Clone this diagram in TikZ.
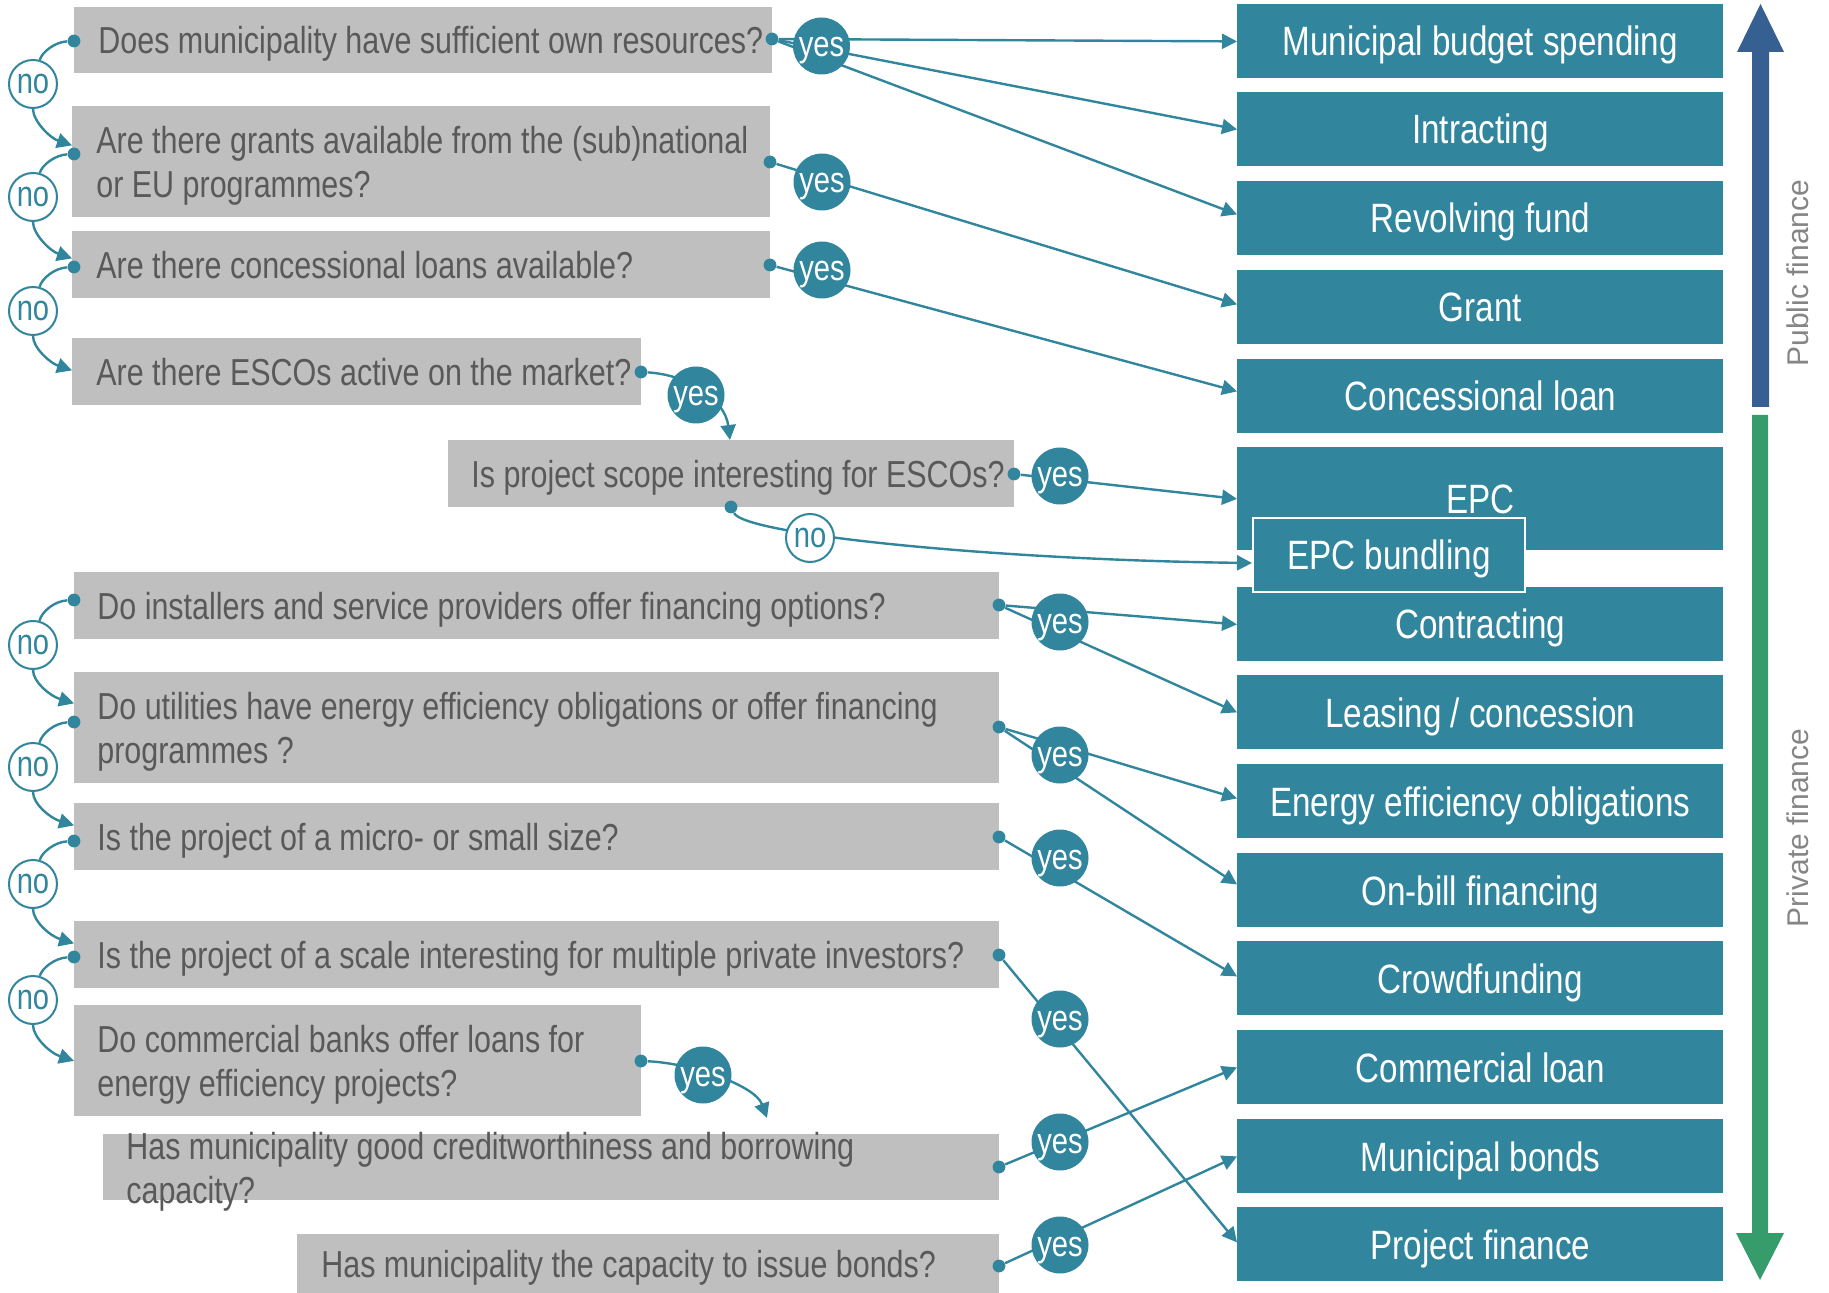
\documentclass[tikz,border=0pt]{standalone}
\usepackage{fontspec}
\setmainfont{Liberation Sans}
\newfontfamily\narrowfont{Liberation Sans}[FakeStretch=0.81]
\usetikzlibrary{arrows.meta}
\definecolor{tealc}{HTML}{31859C}
\definecolor{qgray}{HTML}{BFBFBF}
\definecolor{qtextc}{HTML}{595959}
\definecolor{pubblue}{HTML}{376092}
\definecolor{privgreen}{HTML}{369C6C}
\definecolor{labgray}{HTML}{858585}
\begin{document}
\begin{tikzpicture}[x=0.5pt,y=-0.5pt,
  qbox/.style={fill=qgray, inner sep=0, anchor=north west, draw=none},
  qtext/.style={font=\narrowfont\fontsize{18.8pt}{22pt}\selectfont, text=qtextc, inner sep=0, align=left, anchor=west},
  qone/.style={qtext, text height=13.5pt, text depth=0pt},
  qtwo/.style={qtext, yshift=-2pt},
  rbox/.style={fill=tealc, inner sep=0, anchor=north west, minimum width=243pt, minimum height=37pt,
    text=white, text height=14.6pt, text depth=0pt, font=\narrowfont\fontsize{20.5pt}{24pt}\selectfont},
  dotn/.style={circle, fill=tealc, inner sep=0, minimum size=6.4pt},
  yesn/.style={circle, fill=tealc, text=white, inner sep=0, minimum size=28.5pt,
    text height=11pt, text depth=0pt, font=\narrowfont\fontsize{18pt}{20pt}\selectfont},
  non/.style={circle, fill=white, draw=tealc, line width=1pt, text=tealc, inner sep=0, minimum size=24pt,
    font=\narrowfont\fontsize{18pt}{20pt}\selectfont},
  conn/.style={draw=tealc, line width=1.2pt},
  arr/.style={conn, -{Triangle[length=7.5pt,width=7.5pt]}},
  vlabel/.style={rotate=90, text=labgray, inner sep=0, font=\fontsize{15pt}{18pt}\selectfont}
]
\useasboundingbox (0,0) rectangle (1829,1293);

% ---------- right column: financing options ----------
\node[rbox] (R1) at (1237,4) {Municipal budget spending};
\node[rbox] (R2) at (1237,92) {Intracting};
\node[rbox] (R3) at (1237,181) {Revolving fund};
\node[rbox] (R4) at (1237,270) {Grant};
\node[rbox] (R5) at (1237,359) {Concessional loan};
\node[rbox, minimum height=51.5pt] (R6) at (1237,447) {EPC};
\node[rbox] (R7) at (1237,587) {Contracting};
\node[rbox] (R8) at (1237,675) {Leasing / concession};
\node[rbox] (R9) at (1237,764) {Energy efficiency obligations};
\node[rbox] (R10) at (1237,853) {On-bill financing};
\node[rbox] (R11) at (1237,941) {Crowdfunding};
\node[rbox] (R12) at (1237,1030) {Commercial loan};
\node[rbox] (R13) at (1237,1119) {Municipal bonds};
\node[rbox] (R14) at (1237,1207) {Project finance};
\node[rbox, minimum width=136pt, draw=white, line width=1pt] (B) at (1252,517) {EPC bundling};

% ---------- public / private arrows ----------
\fill[pubblue] (1752,407) -- (1752,52) -- (1737,52) -- (1760.5,4) -- (1784,52) -- (1769,52) -- (1769,407) -- cycle;
\fill[privgreen] (1752,415) -- (1752,1233) -- (1736,1233) -- (1760,1280) -- (1784,1233) -- (1768,1233) -- (1768,415) -- cycle;
\node[vlabel] (pub) at (1798,273) {Public finance};
\node[vlabel] (priv) at (1798,828) {Private finance};

% ---------- questions ----------
\node[qbox, minimum width=349pt, minimum height=33pt] (q1) at (74,7) {};
\node[qone] (q1t) at ([xshift=12pt]q1.west) {Does municipality have sufficient own resources?};
\node[qbox, minimum width=349pt, minimum height=55.5pt] (q2) at (72,106) {};
\node[qtwo] (q2t) at ([xshift=12pt]q2.west) {Are there grants available from the (sub)national\\or EU programmes?};
\node[qbox, minimum width=349pt, minimum height=33.5pt] (q3) at (72,231) {};
\node[qone] (q3t) at ([xshift=12pt]q3.west) {Are there concessional loans available?};
\node[qbox, minimum width=284.5pt, minimum height=33.5pt] (q4) at (72,338) {};
\node[qone] (q4t) at ([xshift=12pt]q4.west) {Are there ESCOs active on the market?};
\node[qbox, minimum width=283pt, minimum height=33.5pt] (q5) at (448,440) {};
\node[qone] (q5t) at ([xshift=11.5pt]q5.west) {Is project scope interesting for ESCOs?};
\node[qbox, minimum width=462.5pt, minimum height=33.5pt] (q6) at (74,572) {};
\node[qone] (q6t) at ([xshift=11.5pt]q6.west) {Do installers and service providers offer financing options?};
\node[qbox, minimum width=462.5pt, minimum height=55.5pt] (q7) at (74,672) {};
\node[qtwo] (q7t) at ([xshift=11.5pt]q7.west) {Do utilities have energy efficiency obligations or offer financing\\programmes ?};
\node[qbox, minimum width=462.5pt, minimum height=33.5pt] (q8) at (74,803) {};
\node[qone] (q8t) at ([xshift=11.5pt]q8.west) {Is the project of a micro- or small size?};
\node[qbox, minimum width=462.5pt, minimum height=33.5pt] (q9) at (74,921) {};
\node[qone] (q9t) at ([xshift=11.5pt]q9.west) {Is the project of a scale interesting for multiple private investors?};
\node[qbox, minimum width=283.5pt, minimum height=55.5pt] (q10) at (74,1005) {};
\node[qtwo] (q10t) at ([xshift=11.5pt]q10.west) {Do commercial banks offer loans for\\energy efficiency projects?};
\node[qbox, minimum width=448pt, minimum height=33pt] (q11) at (103,1134) {};
\node[qtwo] (q11t) at ([xshift=11.5pt]q11.west) {Has municipality good creditworthiness and borrowing\\capacity?};
\node[qbox, minimum width=351pt, minimum height=29.5pt] (q12) at (297,1234) {};
\node[qone] (q12t) at ([xshift=12pt]q12.west) {Has municipality the capacity to issue bonds?};

% ---------- dots ----------
\node[dotn] (d1) at (74,41) {};
\node[dotn] (d2) at (74,154) {};
\node[dotn] (d3) at (74,267) {};
\node[dotn] (d6) at (74,600) {};
\node[dotn] (d7) at (74,722) {};
\node[dotn] (d8) at (74,841) {};
\node[dotn] (d9) at (74,957) {};

\node[dotn] (r1) at (772,39) {};
\node[dotn] (r2) at (770,162) {};
\node[dotn] (r3) at (770,265) {};
\node[dotn] (r4) at (641,372) {};
\node[dotn] (r5) at (1014,474) {};
\node[dotn] (r5b) at (731,507) {};
\node[dotn] (r6) at (999,605) {};
\node[dotn] (r7) at (999,727) {};
\node[dotn] (r8) at (999,837) {};
\node[dotn] (r9) at (999,955) {};
\node[dotn] (r10) at (641,1061) {};
\node[dotn] (r11) at (999,1167) {};
\node[dotn] (r12) at (999,1266) {};

% ---------- "no" circles (left chain) ----------
\node[non] (n1) at (33,84) {no};
\node[non] (n2) at (33,197) {no};
\node[non] (n3) at (33,311) {no};
\node[non] (n4) at (33,645) {no};
\node[non] (n5) at (33,767) {no};
\node[non] (n6) at (33,884) {no};
\node[non] (n7) at (33,1000) {no};

% arrow tip points on question boxes
\coordinate (t2) at ([yshift=8.25pt]q2.west);
\coordinate (t3) at ([yshift=3.25pt]q3.west);
\coordinate (t4) at ([yshift=0.75pt]q4.west);
\coordinate (t7) at ([yshift=12.25pt]q7.west);
\coordinate (t8) at ([yshift=5.75pt]q8.west);
\coordinate (t9) at ([yshift=5.75pt]q9.west);
\coordinate (t10) at (q10.west);
\coordinate (t5) at ([xshift=141pt]q5.north west);
\coordinate (t11) at ([xshift=332pt,yshift=8pt]q11.north west);

% ---------- "no" connectors ----------
\draw[conn] (d1) .. controls (55,42) and (42,52) .. (n1);
\draw[arr] (n1) .. controls (33,121) and (50,138) .. (t2);
\draw[conn] (d2) .. controls (55,155) and (42,165) .. (n2);
\draw[arr] (n2) .. controls (33,234) and (50,251) .. (t3);
\draw[conn] (d3) .. controls (55,268) and (42,278) .. (n3);
\draw[arr] (n3) .. controls (33,348) and (50,363) .. (t4);
\draw[conn] (d6) .. controls (55,601) and (42,611) .. (n4);
\draw[arr] (n4) .. controls (33,682) and (50,696) .. (t7);
\draw[conn] (d7) .. controls (55,723) and (42,733) .. (n5);
\draw[arr] (n5) .. controls (33,804) and (50,818) .. (t8);
\draw[conn] (d8) .. controls (55,842) and (42,852) .. (n6);
\draw[arr] (n6) .. controls (33,921) and (50,936) .. (t9);
\draw[conn] (d9) .. controls (55,958) and (42,968) .. (n7);
\draw[arr] (n7) .. controls (33,1037) and (50,1053) .. (t10);

% ---------- "yes" connectors ----------
\draw[arr] (r1) -- (R1.west);
\draw[arr] (r1) -- (R2.west);
\draw[arr] (r1) -- ([yshift=2pt]R3.west);
\draw[arr] (r2) -- ([yshift=1.5pt]R4.west);
\draw[arr] (r3) -- ([yshift=2.5pt]R5.west);
\draw[arr] (r4) .. controls (690,375) and (725,400) .. (t5);
\draw[arr] (r5) -- (R6.west);
\draw[arr] (r5b) .. controls (745,535) and (1000,560) .. ([yshift=-4pt]B.west);
\draw[arr] (r6) -- (R7.west);
\draw[arr] (r6) -- (R8.west);
\draw[arr] (r7) -- ([yshift=1.5pt]R9.west);
\draw[arr] (r7) -- ([yshift=3pt]R10.west);
\draw[arr] (r8) -- ([yshift=1pt]R11.west);
\draw[arr] (r9) -- ([yshift=1pt]R14.west);
\draw[arr] (r10) .. controls (690,1063) and (755,1085) .. (t11);
\draw[arr] (r11) -- (R12.west);
\draw[arr] (r12) -- (R13.west);

% ---------- labels on connectors ----------
\node[yesn] (y1) at (821.5,46) {yes};
\node[yesn] (y2) at (822,182) {yes};
\node[yesn] (y3) at (822,270) {yes};
\node[yesn] (y4) at (696,395) {yes};
\node[yesn] (y5) at (1060,476) {yes};
\node[yesn] (y6) at (1060,622) {yes};
\node[yesn] (y7) at (1060,755) {yes};
\node[yesn] (y8) at (1060,858) {yes};
\node[yesn] (y9) at (1060,1019) {yes};
\node[yesn] (y10) at (703,1075) {yes};
\node[yesn] (y11) at (1060,1142) {yes};
\node[yesn] (y12) at (1060,1245) {yes};
\node[non] (nE) at (810,538) {no};
\end{tikzpicture}
\end{document}
